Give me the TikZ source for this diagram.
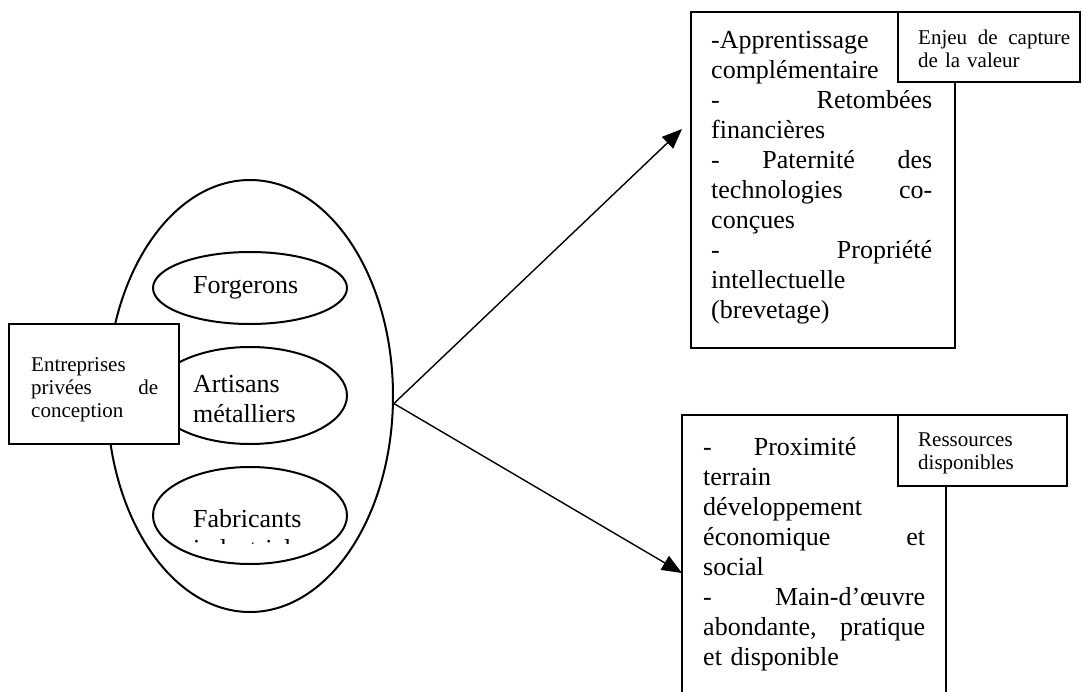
\documentclass[tikz,border=0pt]{standalone}
\usepackage{fontspec}
\setmainfont{Liberation Serif}
\usetikzlibrary{arrows.meta,shapes.geometric}
\begin{document}
\begin{tikzpicture}[x=1pt,y=-1pt,
  oval/.style={draw,ellipse,line width=2pt,inner sep=0pt},
  box/.style={draw,rectangle,line width=1.4pt,inner sep=0pt},
  bigtxt/.style={font=\fontsize{26}{30}\selectfont,inner sep=0pt,align=left},
  smalltxt/.style={font=\fontsize{21}{23}\selectfont,inner sep=0pt,align=left},
  arr/.style={line width=1.4pt,-{Triangle[length=20pt,width=16pt]}}]
\useasboundingbox (0,0) rectangle (1082,691);
\clip (0,0) rectangle (1082,691);

% left group
\node[oval,minimum width=286pt,minimum height=432pt] (ens) at (250,396) {};
\node[oval,minimum width=194pt,minimum height=72pt] (forg) at (250,288) {};
\node[oval,minimum width=194pt,minimum height=97pt] (arti) at (250,395.5) {};
\node[oval,minimum width=194pt,minimum height=97pt] (fabr) at (250,515.5) {};
\node[bigtxt,anchor=base west] (tforg) at (193,293) {Forgerons};
\node[bigtxt,anchor=north west,text width=160pt] (tarti) at (193,371) {\strut Artisans\\métalliers};
\begin{scope}
\clip (150,480) rectangle (350,543.5);
\node[bigtxt,anchor=north west,text width=160pt] (tfabr) at (193,506) {\strut Fabricants\\industriels};
\end{scope}
\node[box,fill=white,minimum width=170pt,minimum height=120pt] (entr) at (94,384) {};
\node[smalltxt,anchor=north west,text width=127pt] (tentr) at (31,354.9) {\strut Entreprises\\privées\hfill de\\conception};

% top right
\node[box,minimum width=264pt,minimum height=336pt] (tbox) at (823,180) {};
\node[box,fill=white,minimum width=182pt,minimum height=70pt] (tlab) at (989,47) {};
\node[bigtxt,anchor=north west,text width=221pt] (ttxt) at (711,27) {\strut -Apprentissage\\complémentaire\\-\hfill Retombées\\financières\\-\hfill Paternité\hfill des\\technologies\hfill co-\\conçues\\-\hfill Propriété\\intellectuelle\\(brevetage)};
\node[smalltxt,anchor=north west,text width=152pt] (tlabtxt) at (918,27.9) {\strut Enjeu\hfill de\hfill capture\\de la valeur};

% bottom right
\node[box,minimum width=264pt,minimum height=305pt] (bbox) at (814,567.5) {};
\node[box,fill=white,minimum width=169pt,minimum height=71pt] (blab) at (982.5,450.5) {};
\node[bigtxt,anchor=north west,text width=222pt] (btxt) at (703,434) {\strut -\hspace{42pt}Proximité\\terrain\\développement\\économique\hfill et\\social\\-\hfill Main-d’œuvre\\abondante,\hfill pratique\\et disponible};
\node[smalltxt,anchor=north west,text width=140pt] (blabtxt) at (918,429.9) {\strut Ressources\\disponibles};

% connectors
\coordinate (t1) at (682,129);
\coordinate (t2) at (682,573);
\draw[arr] (ens.-3) -- (t1);
\draw[arr] (ens.-3) -- (t2);
\end{tikzpicture}
\end{document}
